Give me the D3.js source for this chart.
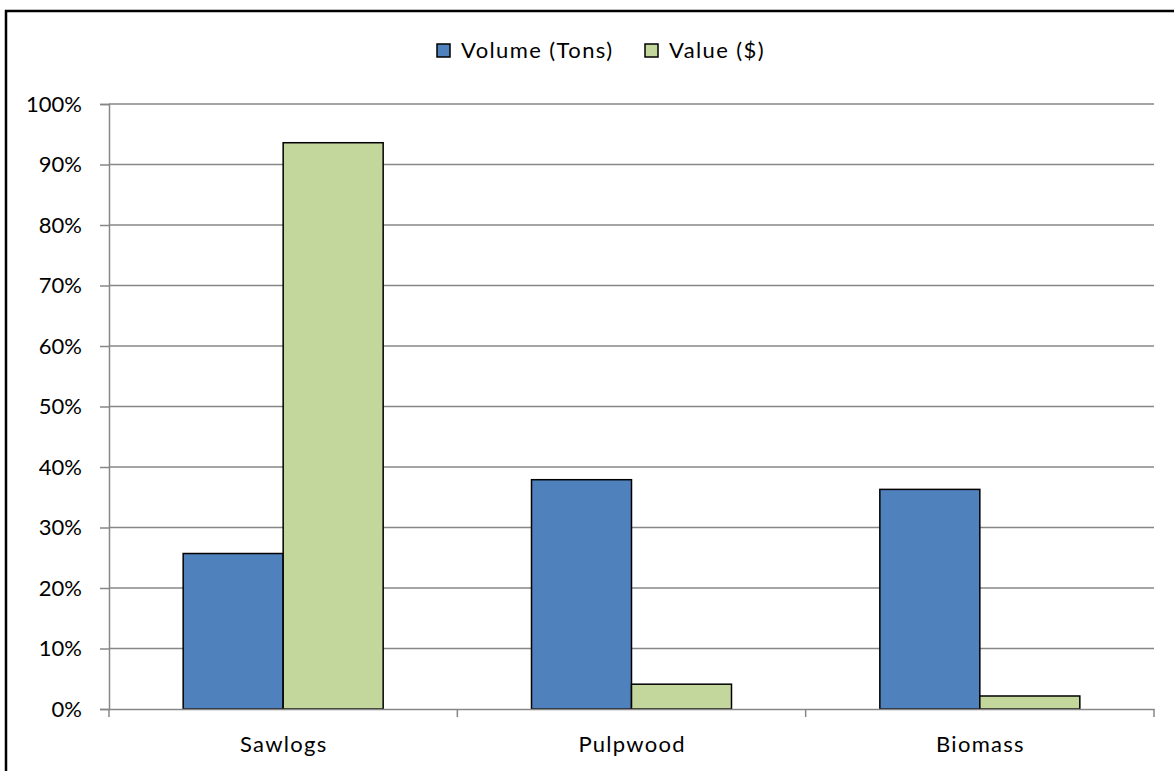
<!DOCTYPE html>
<html><head><meta charset="utf-8">
<script src="https://cdn.jsdelivr.net/npm/d3@7"></script>
<style>body{margin:0;background:#fff}svg{display:block}text{font-family:Lato,"Open Sans",sans-serif;fill:#000}</style>
</head><body>
<svg id="c" width="1174" height="771"></svg>
<script>
const categories = ["Sawlogs", "Pulpwood", "Biomass"];
const seriesNames = ["Volume (Tons)", "Value ($)"];
const volumeValues = [25.7, 37.9, 36.3];
const valueValues = [93.6, 4.1, 2.15];
const yTicks = [0, 10, 20, 30, 40, 50, 60, 70, 80, 90, 100];
const colors = ["#4f81bd", "#c3d69b"];

(function () {
const svg = d3.select("#c");
const pL = 109, pR = 1154, pT = 104, pB = 709;
const fs = 22;

svg.append("rect").attr("x", 6).attr("y", 11).attr("width", 1200).attr("height", 800)
  .attr("fill", "none").attr("stroke", "#000").attr("stroke-width", 2.5);

const x0 = d3.scaleBand().domain(categories).range([pL, pR]).padding(0);
const barW = 100;
const pOuter = (x0.bandwidth() / barW - 2) / 2;
const x1 = d3.scaleBand().domain(seriesNames).range([0, x0.bandwidth()]).paddingInner(0).paddingOuter(pOuter);
const y = d3.scaleLinear().domain([0, 100]).range([pB, pT]);

svg.append("g").selectAll("line").data(yTicks.filter(d => d > 0)).join("line")
  .attr("x1", pL).attr("x2", pR).attr("y1", d => y(d)).attr("y2", d => y(d))
  .attr("stroke", "#878787").attr("stroke-width", 1.5);

const rows = categories.map((c, i) => ({cat: c, vals: [volumeValues[i], valueValues[i]]}));
svg.append("g").selectAll("g").data(rows).join("g")
  .attr("transform", d => `translate(${x0(d.cat)},0)`)
  .selectAll("rect").data(d => d.vals.map((v, j) => ({s: seriesNames[j], v, j}))).join("rect")
  .attr("x", d => x1(d.s)).attr("width", x1.bandwidth())
  .attr("y", d => y(d.v)).attr("height", d => y(0) - y(d.v))
  .attr("fill", d => colors[d.j]).attr("stroke", "#000").attr("stroke-width", 1.5);

const yAxis = d3.axisLeft(y).tickValues(yTicks).tickSize(9).tickPadding(18).tickFormat(d => d + "%");
const gy = svg.append("g").attr("transform", `translate(${pL},0)`).call(yAxis);
gy.select(".domain").attr("stroke", "#878787").attr("stroke-width", 1.5);
gy.selectAll(".tick line").attr("stroke", "#878787").attr("stroke-width", 1.5);
gy.selectAll(".tick text").attr("font-size", fs).attr("font-family", "Lato").attr("fill", "#000");

const xAxis = d3.axisBottom(x0).tickSize(0).tickPadding(27);
const gx = svg.append("g").attr("transform", `translate(0,${pB})`).call(xAxis);
gx.select(".domain").attr("stroke", "#878787").attr("stroke-width", 1.5);
gx.selectAll(".tick text").attr("font-size", fs).attr("font-family", "Lato").attr("fill", "#000")
  .attr("letter-spacing", 1.3).attr("dx", 0.65);
const bounds = categories.map(c => x0(c)).concat([x0(categories[categories.length - 1]) + x0.bandwidth()]);
gx.selectAll(".bnd").data(bounds).join("line").attr("class", "bnd")
  .attr("x1", d => d).attr("x2", d => d).attr("y1", 0).attr("y2", 8)
  .attr("stroke", "#878787").attr("stroke-width", 1.5);

const legend = svg.append("g");
const legItems = [{name: seriesNames[0], x: 437, c: colors[0]}, {name: seriesNames[1], x: 645, c: colors[1]}];
legItems.forEach(it => {
  legend.append("rect").attr("x", it.x).attr("y", 44).attr("width", 13).attr("height", 13)
    .attr("fill", it.c).attr("stroke", "#000").attr("stroke-width", 1.5);
  legend.append("text").attr("x", it.x + 24).attr("y", 58).attr("font-size", fs)
    .attr("letter-spacing", 1.4).text(it.name);
});
})();
</script>
</body></html>
